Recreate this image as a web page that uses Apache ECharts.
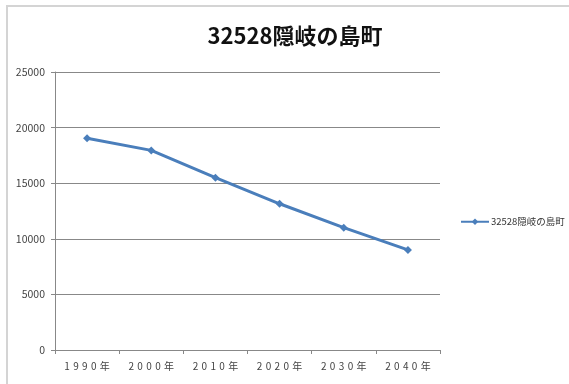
<!DOCTYPE html>
<html>
<head>
<meta charset="utf-8">
<script src="https://cdn.jsdelivr.net/npm/echarts@6/dist/echarts.min.js"></script>
<style>
html,body{margin:0;padding:0;background:#fff;}
#wrap{position:absolute;left:0;top:0;width:569px;height:384px;}
#frame{position:absolute;left:6px;top:5px;width:563px;height:379px;border-top:2px solid #d4d4d4;border-left:2px solid #d4d4d4;box-sizing:border-box;}
#chart{position:absolute;left:0;top:0;width:569px;height:384px;}
</style>
</head>
<body>
<div id="wrap"><div id="frame"></div><div id="chart"></div></div>
<script>
const titleText = '32528隠岐の島町';
const seriesName = '32528隠岐の島町';
const categories = ['1990年', '2000年', '2010年', '2020年', '2030年', '2040年'];
const values = [19050, 17950, 15500, 13150, 11000, 9000];
const yTicks = [0, 5000, 10000, 15000, 20000, 25000];

const chart = echarts.init(document.getElementById('chart'), null, {renderer: 'canvas'});
const font = '"Noto Sans CJK JP", "Noto Sans", sans-serif';
chart.setOption({
  backgroundColor: 'transparent',
  animation: false,
  title: {
    text: titleText,
    left: 290,
    top: 20,
    textAlign: 'center',
    textStyle: {fontSize: 22, fontWeight: 'bold', color: '#111', fontFamily: font}
  },
  legend: {
    data: [seriesName],
    left: 455,
    top: 212,
    itemWidth: 28,
    itemHeight: 8,
    itemGap: 2,
    textStyle: {fontSize: 9.5, color: '#333', fontFamily: font, padding: [0, 0, 0, -3]}
  },
  grid: {left: 55, right: 129, top: 72, bottom: 34, containLabel: false},
  xAxis: {
    type: 'category',
    data: categories,
    boundaryGap: true,
    axisLine: {show: true, lineStyle: {color: '#888', width: 1}},
    axisTick: {show: true, interval: 0, length: 4, lineStyle: {color: '#888'}},
    axisLabel: {
      interval: 0, hideOverlap: false,
      fontSize: 10, color: '#444', fontFamily: font, margin: 11,
      formatter: v => v.split('').join('\u2004')
    },
    splitLine: {show: false}
  },
  yAxis: {
    type: 'value',
    min: yTicks[0],
    max: yTicks[yTicks.length - 1],
    interval: 5000,
    axisLine: {show: true, lineStyle: {color: '#888', width: 1}},
    axisTick: {show: true, length: 4, lineStyle: {color: '#888'}},
    axisLabel: {fontSize: 10.5, color: '#444', fontFamily: font, margin: 10, formatter: v => String(v)},
    splitLine: {show: true, lineStyle: {color: '#888', width: 1}}
  },
  series: [{
    name: seriesName,
    type: 'line',
    data: values,
    symbol: 'diamond',
    symbolSize: 8,
    lineStyle: {color: '#4a7ebb', width: 3},
    itemStyle: {color: '#4a7ebb'}
  }]
});
</script>
</body>
</html>
